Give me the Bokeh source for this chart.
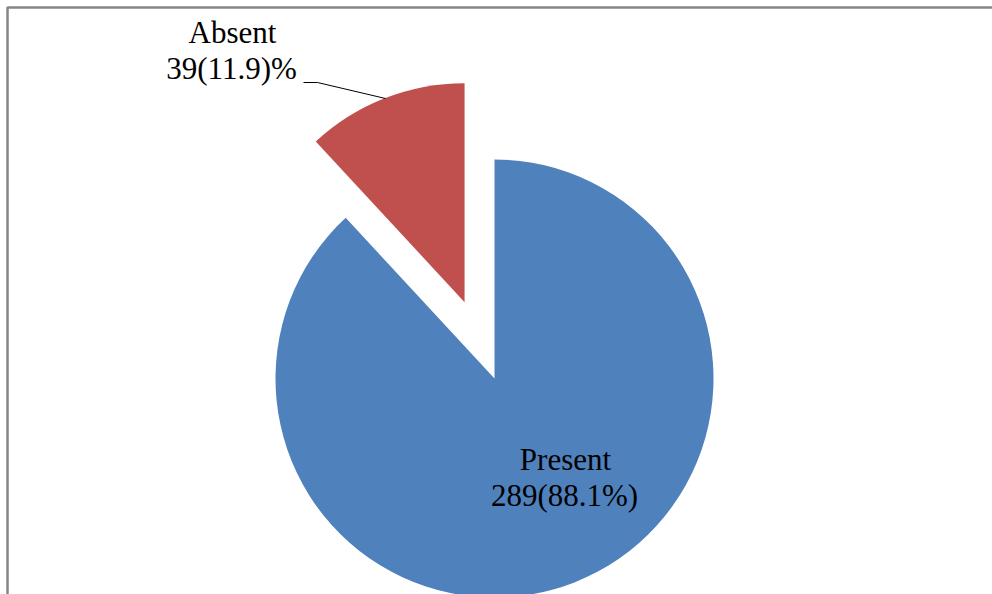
import math
from bokeh.plotting import figure
from bokeh.models import Range1d
from bokeh.core.properties import value
from bokeh.embed import file_html
from bokeh.resources import INLINE

# ---- data ----
categories = ["Present", "Absent"]
counts = [289, 39]
value_labels = ["289(88.1%)", "39(11.9)%"]
colors = ["#4F81BD", "#C0504D"]

W, H = 992, 594
p = figure(width=W, height=H, output_backend="svg", toolbar_location=None,
           x_range=Range1d(0, W), y_range=Range1d(0, H), min_border=0)
p.axis.visible = False
p.grid.visible = False
p.outline_line_color = None
p.background_fill_color = "white"
p.border_fill_color = "white"

# frame border (top and left visible in the cropped chart)
p.line(x=[7, 7, W], y=[0, H - 7, H - 7], line_color="#868686", line_width=2.5)

cx, cy, r = 494, H - 378, 219
explode = [0, 82]
total = sum(counts)
start = math.pi / 2  # 12 o'clock, going clockwise
for cat, cnt, col, ex in zip(categories, counts, colors, explode):
    sweep = 2 * math.pi * cnt / total
    a0 = start - sweep  # anticlockwise start
    a1 = start
    mid = (a0 + a1) / 2
    x0 = cx + ex * math.cos(mid)
    y0 = cy + ex * math.sin(mid)
    p.wedge(x=x0, y=y0, radius=r, start_angle=a0, end_angle=a1,
            direction="anticlock", fill_color=col, line_color=None)
    start = a0

# leader line for Absent label
p.line(x=[303, 317, 385], y=[H - 82, H - 82, H - 98], line_color="black", line_width=1)

font = value("Liberation Serif")
label_pos = {"Present": (565, H - 459), "Absent": (232, H - 32)}
for cat, vl in zip(categories, value_labels):
    lx, ly = label_pos[cat]
    p.text(x=[lx], y=[ly], text=[cat], text_font=font, text_font_size="31px",
           text_align="center", text_baseline="alphabetic", text_color="black")
    p.text(x=[lx - 1], y=[ly - 36], text=[vl], text_font=font, text_font_size="31px",
           text_align="center", text_baseline="alphabetic", text_color="black")

open("out.html", "w").write(file_html(p, INLINE))
